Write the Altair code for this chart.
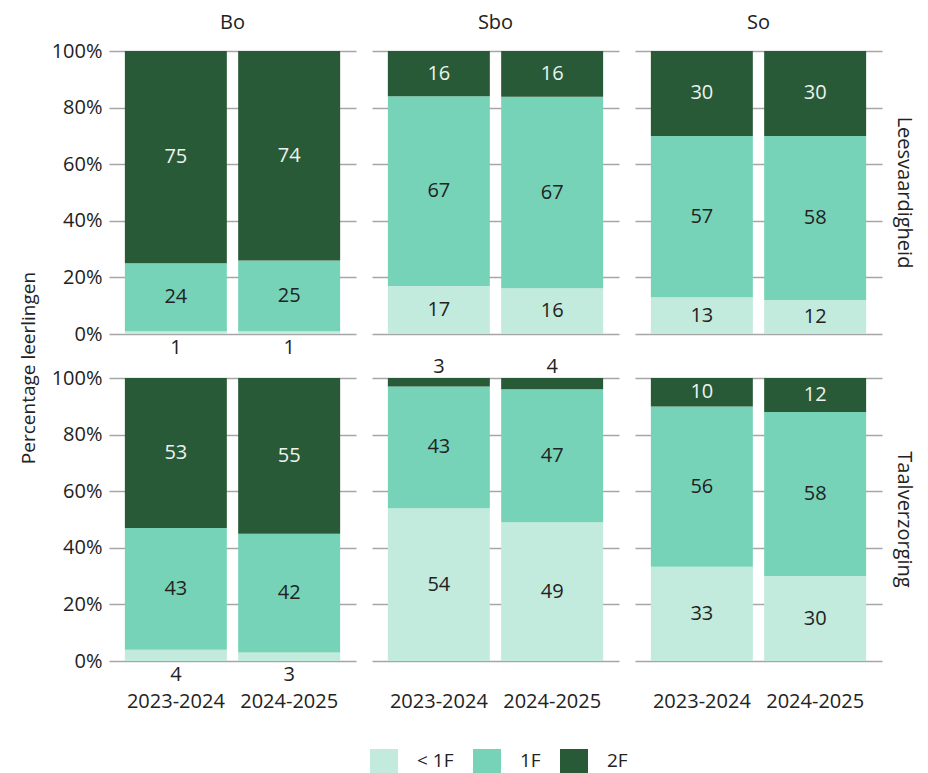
import altair as alt
import pandas as pd

FONT = "Open Sans"

columns = ["Bo", "Sbo", "So"]
rows = ["Leesvaardigheid", "Taalverzorging"]
years = ["2023-2024", "2024-2025"]
levels = ["< 1F", "1F", "2F"]
colors = ["#C2EADD", "#76D3B7", "#285A37"]

# values per [row][column][year] -> [< 1F, 1F, 2F]
lees_bo = [[1, 24, 75], [1, 25, 74]]
lees_sbo = [[17, 67, 16], [16, 67, 16]]
lees_so = [[13, 57, 30], [12, 58, 30]]
taal_bo = [[4, 43, 53], [3, 42, 55]]
taal_sbo = [[54, 43, 3], [49, 47, 4]]
taal_so = [[33, 56, 10], [30, 58, 12]]

table = {
    "Leesvaardigheid": {"Bo": lees_bo, "Sbo": lees_sbo, "So": lees_so},
    "Taalverzorging": {"Bo": taal_bo, "Sbo": taal_sbo, "So": taal_so},
}

records = []
for r in rows:
    for c in columns:
        for yi, yr in enumerate(years):
            for li, lv in enumerate(levels):
                records.append({"row": r, "col": c, "year": yr, "level": lv,
                                "ord": li, "value": table[r][c][yi][li]})
df = pd.DataFrame(records)

base = alt.Chart().transform_stack(
    stack="value", as_=["y0", "y1"], groupby=["row", "col", "year"],
    offset="normalize", sort=[alt.SortField("ord", order="ascending")]
)

x_enc = alt.X("year:N", title=None, sort=years,
              scale=alt.Scale(paddingInner=0.1, paddingOuter=0.14),
              axis=alt.Axis(labelAngle=0, ticks=False, domain=False,
                            labelPadding=30, labelFontSize=20, labelFont=FONT,
                            labelColor="#222"))

bars = base.mark_bar().encode(
    x=x_enc,
    y=alt.Y("y0:Q", title=None, scale=alt.Scale(domain=[0, 1], nice=False),
            axis=alt.Axis(values=[0, 0.2, 0.4, 0.6, 0.8, 1.0], format=".0%",
                          grid=True, gridColor="#a6a6a6", gridWidth=1.5,
                          domain=False, ticks=False, labelPadding=7,
                          labelFontSize=20, labelFont=FONT, labelColor="#222")),
    y2="y1:Q",
    color=alt.Color("level:N", sort=levels,
                    scale=alt.Scale(domain=levels, range=colors),
                    legend=alt.Legend(title=None, orient="none", direction="horizontal",
                                      legendX=261, legendY=696,
                                      symbolType="M-1,-0.857H1V0.857H-1Z",
                                      symbolSize=784, symbolStrokeWidth=0,
                                      labelFontSize=19, labelFont=FONT, labelColor="#222",
                                      labelOffset=19, columnPadding=19)),
)

labels = base.transform_calculate(
    ypos="datum.value < 5 ? (datum.level == '2F' ? 1.04 : -0.05) : (datum.y0 + datum.y1) / 2"
).mark_text(fontSize=20, font=FONT, baseline="middle").encode(
    x=alt.X("year:N", sort=years),
    y=alt.Y("ypos:Q"),
    text=alt.Text("value:Q"),
    color=alt.condition("datum.level == '2F' && datum.value >= 5",
                        alt.value("#eef3ef"), alt.value("#222")),
)

chart = alt.layer(bars, labels, data=df).properties(width=247, height=283).facet(
    row=alt.Row("row:N", sort=rows, title="Percentage leerlingen",
                header=alt.Header(labelOrient="right", labelAngle=90, titleOrient="left",
                                  labelFontSize=20, labelFont=FONT, labelColor="#222",
                                  titleFontSize=19, titleFont=FONT, titleColor="#222",
                                  titleFontWeight="normal", labelPadding=12,
                                  titlePadding=2)),
    column=alt.Column("col:N", sort=columns, title=None,
                      header=alt.Header(labelFontSize=20, labelFont=FONT, labelColor="#222",
                                        labelPadding=18)),
    spacing={"row": 44, "column": 16},
    bounds="flush",
).resolve_scale(x="shared").configure_view(stroke=None).properties(
    padding={"left": 11, "top": 5, "right": 5, "bottom": 0}
)

chart.save("out.html", embed_options={"renderer": "svg", "actions": False})
